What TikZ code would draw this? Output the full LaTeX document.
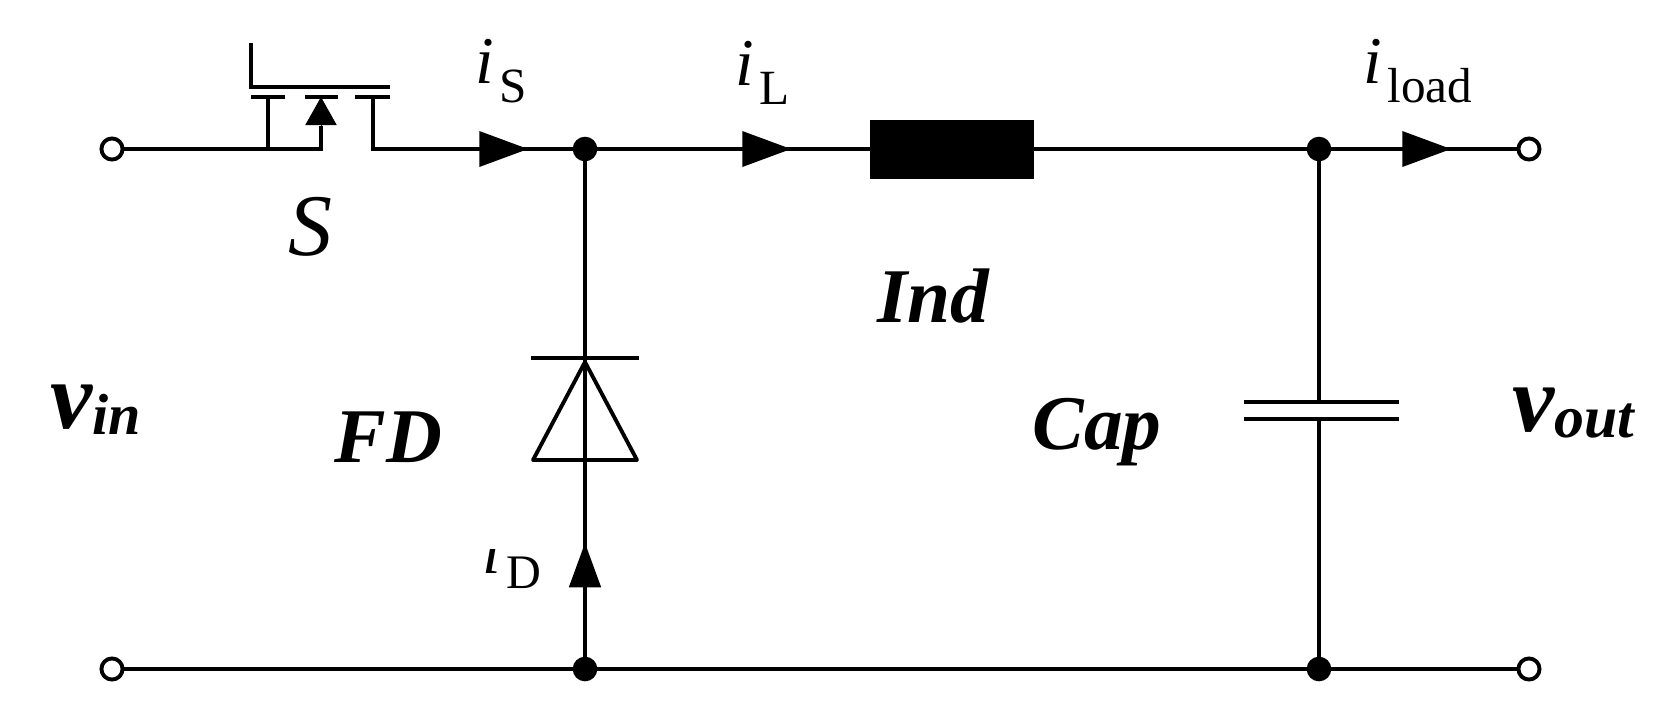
\documentclass[tikz,border=0pt]{standalone}
\usepackage{fontspec}
\setmainfont{Liberation Serif}
\usetikzlibrary{arrows.meta,shapes.geometric}
\newcommand{\currlabel}[1]{\fontsize{19}{19}\selectfont\textit{i}\kern1.5pt\raisebox{-5.4pt}{\fontsize{14}{14}\selectfont #1}}
\newcommand{\partlabel}[1]{\fontsize{22}{22}\selectfont\bfseries\itshape #1}
\newcommand{\portlabel}[3]{\fontsize{27}{27}\selectfont\bfseries\itshape #1\raisebox{-1.8pt}{\fontsize{#3}{#3}\selectfont #2}}
\tikzset{
  wire/.style={line width=1.4pt},
  thinwire/.style={line width=1.1pt},
  terminal/.style={circle,draw,fill=white,line width=1.1pt,inner sep=0pt,outer sep=0pt,minimum size=6pt},
  junction/.style={circle,fill=black,inner sep=0pt,outer sep=0pt,minimum size=7pt},
  currarrow/.style={-{Triangle[length=13.8pt,width=10.2pt]},line width=0pt},
  currarrowup/.style={-{Triangle[length=12.6pt,width=9.2pt]},line width=0pt},
  txt/.style={anchor=base west,inner sep=0pt}
}
\begin{document}
\begin{tikzpicture}[x=0.01cm,y=-0.01cm]
        \useasboundingbox (0,0) rectangle (1665,720);
        \node[terminal] (vinp) at (112,149) {};
        \node[terminal] (vinn) at (112,669) {};
        \node[terminal] (voutp) at (1529,149) {};
        \node[terminal] (voutn) at (1529,669) {};
        \node[junction] (jtop) at (585,149) {};
        \node[junction] (jbot) at (585,669) {};
        \node[junction] (ktop) at (1319,149) {};
        \node[junction] (kbot) at (1319,669) {};
        \node[rectangle,fill=black,inner sep=0pt,minimum width=163*0.2845pt,minimum height=59*0.2845pt] (ind) at (952,149) {};

        \coordinate (gatetop) at (251,43);
        \coordinate (gatecorner) at (251,87);
        \coordinate (gateend) at (390,87);
        \coordinate (srcl) at (251,97);
        \coordinate (srcr) at (285,97);
        \coordinate (srcstem) at (268,97);
        \coordinate (srcfoot) at (268,149);
        \coordinate (bodyl) at (305,97);
        \coordinate (bodyr) at (338,97);
        \coordinate (bodyfoot) at (321,149);
        \coordinate (bodybase) at (321,126);
        \coordinate (bodytip) at (321,97);
        \coordinate (drnl) at (355,97);
        \coordinate (drnr) at (390,97);
        \coordinate (drnstem) at (373,97);
        \coordinate (drnfoot) at (373,149);
        \coordinate (cathl) at (531,358);
        \coordinate (cathr) at (639,358);
        \coordinate (apex) at (585,362);
        \coordinate (anodel) at (533,460);
        \coordinate (anoder) at (637,460);
        \coordinate (capa) at (1319,402);
        \coordinate (capal) at (1244,402);
        \coordinate (capar) at (1399,402);
        \coordinate (capb) at (1319,419);
        \coordinate (capbl) at (1244,419);
        \coordinate (capbr) at (1399,419);
        \coordinate (isbase) at (480,149);
        \coordinate (istip) at (528,149);
        \coordinate (ilbase) at (743,149);
        \coordinate (iltip) at (791,149);
        \coordinate (ildbase) at (1403,149);
        \coordinate (ildtip) at (1451,149);
        \coordinate (idbase) at (585,586);
        \coordinate (idtip) at (585,543);

        \draw[wire] (vinp) -- (bodyfoot) -- (bodybase);
        \draw[thinwire] (gatetop) -- (gatecorner) -- (gateend);
        \draw[wire] (srcl) -- (srcr);
        \draw[wire] (bodyl) -- (bodyr);
        \draw[wire] (drnl) -- (drnr);
        \draw[wire] (srcstem) -- (srcfoot);
        \draw[wire] (drnstem) -- (drnfoot) -- (jtop);
        \draw[wire] (jtop) -- (ind);
        \draw[wire] (ind) -- (ktop);
        \draw[wire] (ktop) -- (voutp);
        \draw[wire] (vinn) -- (jbot);
        \draw[wire] (jbot) -- (kbot);
        \draw[wire] (kbot) -- (voutn);
        \draw[wire] (jtop) -- (jbot);
        \draw[wire] (ktop) -- (capa);
        \draw[wire] (capb) -- (kbot);
        \draw[wire] (capal) -- (capar);
        \draw[wire] (capbl) -- (capbr);
        \draw[thinwire] (cathl) -- (cathr);
        \draw[thinwire,line join=round] (apex) -- (anoder) -- (anodel) -- cycle;

        \draw[currarrow] (isbase) -- (istip);
        \draw[currarrow] (ilbase) -- (iltip);
        \draw[currarrow] (ildbase) -- (ildtip);
        \draw[currarrowup] (idbase) -- (idtip);
        \draw[-{Triangle[length=8pt,width=9pt]},line width=0pt] (bodybase) -- (bodytip);

        \node[txt] (lbls) at (475,83) {\currlabel{S}};
        \node[txt] (lbll) at (735,85) {\currlabel{L}};
        \node[txt] (lblload) at (1363,83) {\currlabel{load}};
        \begin{scope}
          \clip (470,549) rectangle (545,600);
          \node[txt] (lbld) at (482,573) {\fontsize{19}{19}\selectfont\textit{i}\kern1.5pt\raisebox{-4.3pt}{\fontsize{13.7}{13.7}\selectfont D}};
        \end{scope}
        \node[txt] (lblsw) at (288,255) {\fontsize{25}{25}\selectfont\textit{S}};
        \node[txt] (lblind) at (877,322) {\partlabel{Ind}};
        \node[txt] (lblfd) at (334,462) {\partlabel{FD}};
        \node[txt] (lblcap) at (1032,449) {\partlabel{Cap}};
        \node[txt] (lblvin) at (50,428) {\portlabel{v}{in}{16.5}};
        \node[txt] (lblvout) at (1512,431) {\portlabel{v}{out}{17}};
\end{tikzpicture}
\end{document}
